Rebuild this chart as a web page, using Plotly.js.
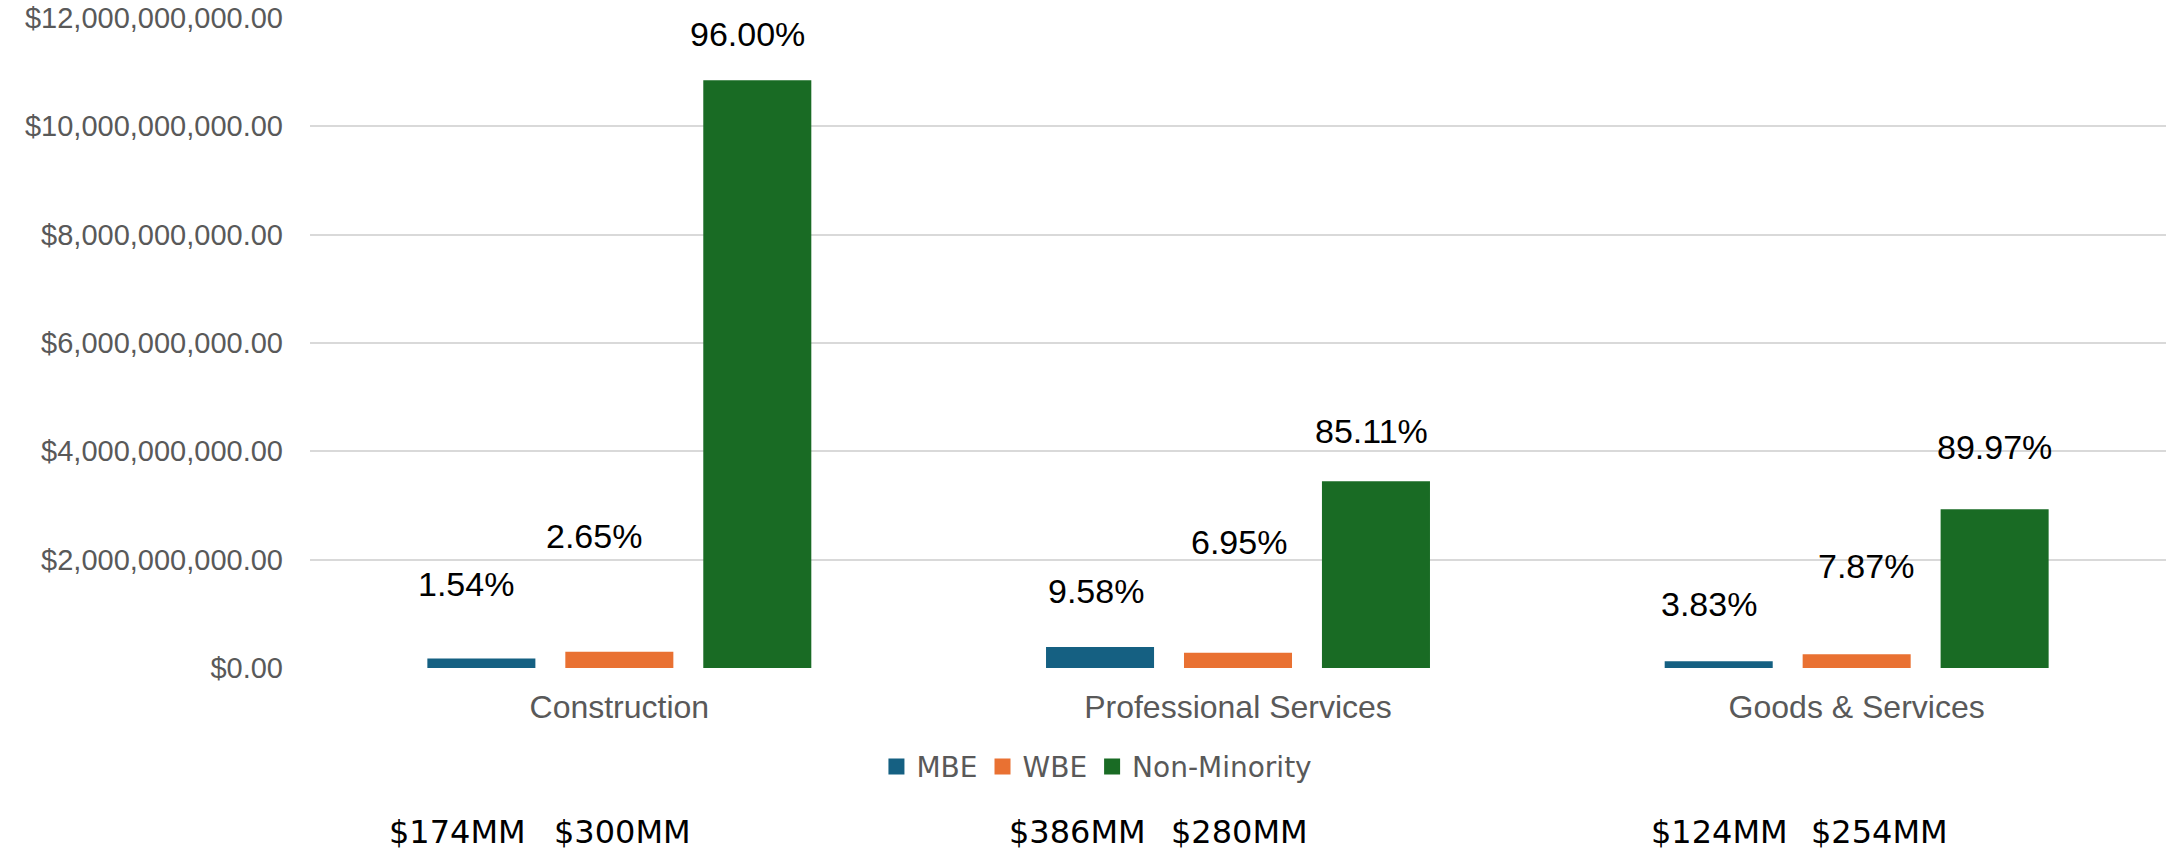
<!DOCTYPE html>
<html>
<head>
<meta charset="utf-8">
<script src="https://cdn.plot.ly/plotly-3.0.1.min.js"></script>
<style>
  html, body { margin: 0; padding: 0; background: #ffffff; }
  #chart { width: 2168px; height: 854px; }
</style>
</head>
<body>
<div id="chart"></div>
<script>
// ---------------- DATA ----------------
const categories = ['Construction', 'Professional Services', 'Goods & Services'];
const seriesNames = ['MBE', 'WBE', 'Non-Minority'];
const mbeValues = [174e6, 386e6, 124e6];
const wbeValues = [300e6, 280e6, 254e6];
const nonMinorityValues = [10.85e9, 3.45e9, 2.93e9];
const mbePct = [1.54, 9.58, 3.83];
const wbePct = [2.65, 6.95, 7.87];
const nonMinorityPct = [96.00, 85.11, 89.97];
const yTickValues = [0, 2e9, 4e9, 6e9, 8e9, 10e9, 12e9];

// ---------------- STYLE / LAYOUT CONSTANTS ----------------
const colors = ['#156082', '#E97132', '#196B24'];
const BARGAP = 0.331;
const BARGROUPGAP = 0.217;
const nSeries = 3;
const slot = (1 - BARGAP) / nSeries;
// label placement (y in dollars for % labels, pixel xshifts)
const pctLabelY = [[1.545e9, 2.43e9, 11.70e9], [1.42e9, 2.33e9, 4.37e9], [1.19e9, 1.88e9, 4.08e9]];
const pctLabelXShift = [[-15, -25, -10], [-4, 1, -4], [-10, 9, 0]];
const mmLabelXShift = [[-24, 3], [-23, 1], [1, 23]];

const axisFont = 'Arial, "Liberation Sans", sans-serif';
const greyText = '#595959';

const xIdx = categories.map((_, i) => i);
const allValues = [mbeValues, wbeValues, nonMinorityValues];
const allPct = [mbePct, wbePct, nonMinorityPct];

const traces = allValues.map((vals, k) => ({
  type: 'bar',
  name: seriesNames[k],
  x: xIdx,
  y: vals,
  marker: { color: colors[k], line: { width: 0 } },
  showlegend: false,
  legendgroup: seriesNames[k],
  hoverinfo: 'skip'
}));
// legend entries with larger square swatches (same series, no extra marks drawn)
seriesNames.forEach((name, k) => {
  traces.push({
    type: 'scatter',
    mode: 'markers',
    name: name,
    legendgroup: name,
    x: [null],
    y: [null],
    marker: { symbol: 'square', size: 16, color: colors[k] },
    showlegend: true,
    hoverinfo: 'skip'
  });
});

function fmtDollar(v) {
  return '$' + v.toLocaleString('en-US', { minimumFractionDigits: 2, maximumFractionDigits: 2 });
}

const annotations = [];
categories.forEach((c, i) => {
  for (let k = 0; k < nSeries; k++) {
    annotations.push({
      x: i + (k - 1) * slot,
      y: pctLabelY[i][k],
      xref: 'x', yref: 'y',
      text: allPct[k][i].toFixed(2) + '%',
      showarrow: false,
      xanchor: 'center', yanchor: 'middle',
      xshift: pctLabelXShift[i][k],
      font: { family: axisFont, size: 34, color: '#000000' }
    });
  }
  [mbeValues, wbeValues].forEach((vals, k) => {
    annotations.push({
      x: i + (k - 1) * slot,
      y: -0.283,
      xref: 'x', yref: 'paper',
      text: '$' + Math.round(vals[i] / 1e6) + 'MM',
      showarrow: false,
      xanchor: 'center', yanchor: 'bottom',
      borderpad: 0,
      xshift: mmLabelXShift[i][k],
      font: { family: '"DejaVu Sans", Verdana, sans-serif', size: 32, color: '#000000' }
    });
  });
});

const layout = {
  width: 2168,
  height: 854,
  margin: { l: 310, r: 2, t: 18, b: 186, pad: 0 },
  paper_bgcolor: '#ffffff',
  plot_bgcolor: '#ffffff',
  barmode: 'group',
  bargap: BARGAP,
  bargroupgap: BARGROUPGAP,
  showlegend: true,
  legend: {
    orientation: 'h',
    x: 0.424, xanchor: 'center',
    y: -0.152, yanchor: 'middle',
    itemsizing: 'trace',
    font: { family: '"DejaVu Sans", Verdana, sans-serif', size: 28, color: greyText },
    itemclick: false, itemdoubleclick: false,
    bgcolor: 'rgba(0,0,0,0)'
  },
  xaxis: {
    type: 'linear',
    range: [-0.5, categories.length - 0.5],
    tickvals: xIdx,
    ticktext: categories,
    showgrid: false,
    zeroline: false,
    showline: false,
    ticks: '',
    ticklabelstandoff: 17,
    tickfont: { family: axisFont, size: 32, color: greyText },
    fixedrange: true
  },
  yaxis: {
    range: [0, 12e9],
    tickvals: yTickValues,
    ticktext: yTickValues.map(fmtDollar),
    showgrid: true,
    gridcolor: '#d9d9d9',
    gridwidth: 2,
    zeroline: false,
    showline: false,
    ticks: '',
    ticklabelstandoff: 26,
    tickfont: { family: axisFont, size: 29, color: greyText },
    fixedrange: true
  },
  annotations: annotations
};

Plotly.newPlot('chart', traces, layout, { displayModeBar: false, staticPlot: true });
</script>
</body>
</html>
